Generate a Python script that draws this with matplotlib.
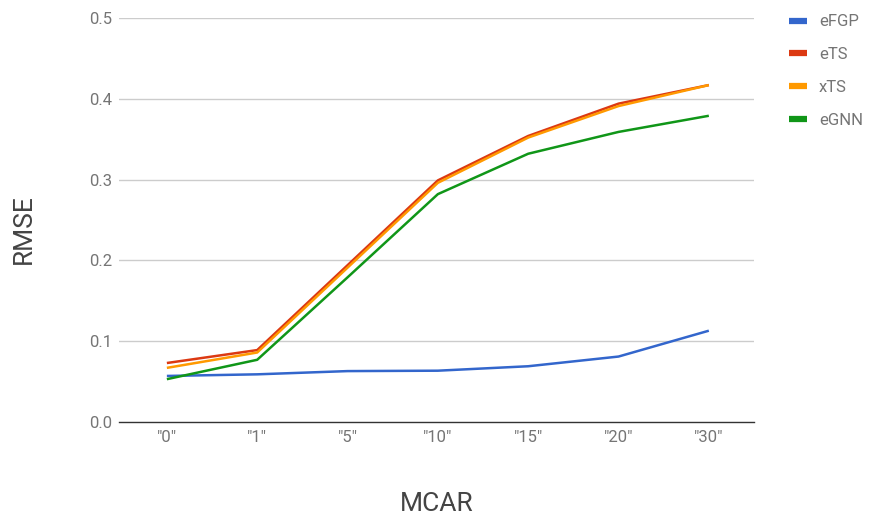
import matplotlib
matplotlib.use("Agg")
import matplotlib.pyplot as plt

categories = ['"0"', '"1"', '"5"', '"10"', '"15"', '"20"', '"30"']
efgp = [0.057, 0.059, 0.063, 0.0635, 0.069, 0.081, 0.113]
ets = [0.073, 0.089, 0.194, 0.299, 0.354, 0.394, 0.417]
xts = [0.067, 0.086, 0.191, 0.296, 0.352, 0.391, 0.417]
egnn = [0.053, 0.077, 0.179, 0.282, 0.332, 0.359, 0.379]

series = [("eFGP", efgp, "#3366cc"), ("eTS", ets, "#dc3912"),
          ("xTS", xts, "#ff9900"), ("eGNN", egnn, "#109618")]

plt.rcParams['font.family'] = ['Roboto', 'DejaVu Sans']
fig = plt.figure(figsize=(8.71, 5.18), dpi=100)
ax = fig.add_axes([119/871, 96/518, (754-119)/871, (422-18)/518])

x = list(range(len(categories)))
for name, vals, col in series:
    ax.plot(x, vals, color=col, lw=1.8, label=name, solid_capstyle='butt')

ax.set_xlim(-0.53, 6.5)
ax.set_ylim(0, 0.5)
ax.set_yticks([0, 0.1, 0.2, 0.3, 0.4, 0.5])
ax.set_yticklabels(["0.0", "0.1", "0.2", "0.3", "0.4", "0.5"])
ax.set_xticks(x)
ax.set_xticklabels(categories)
ax.grid(axis='y', color='#cccccc', lw=1)
ax.set_axisbelow(True)
for s in ['top', 'right', 'left']:
    ax.spines[s].set_visible(False)
ax.spines['bottom'].set_color('#333333')
ax.spines['bottom'].set_linewidth(1)
ax.spines['bottom'].set_zorder(0.5)
ax.tick_params(axis='both', length=0, colors='#757575', labelsize=12)
ax.tick_params(axis='x', pad=6)
ax.tick_params(axis='y', pad=5)

fig.text(437/871, 1 - 504/518, "MCAR", ha='center', va='center', fontsize=19, color='#444444')
fig.text(24/871, 1 - 229/518, "RMSE", ha='center', va='center', rotation=90, fontsize=19, color='#444444')

leg = ax.legend(loc='upper left', bbox_to_anchor=(774/871, 1 + 0.5/518), bbox_transform=fig.transFigure,
                frameon=False, fontsize=12, handlelength=1.08, handletextpad=0.72, labelspacing=1.07,
                labelcolor='#757575')
for h in leg.get_lines():
    h.set_linewidth(4.5)

fig.savefig("out.png", dpi=100)
